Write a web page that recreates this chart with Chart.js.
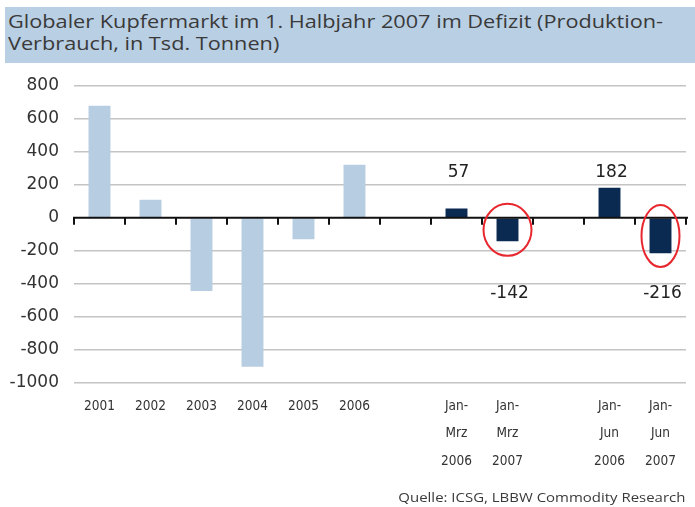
<!DOCTYPE html>
<html>
<head>
<meta charset="utf-8">
<script src="https://cdn.jsdelivr.net/npm/chart.js@4.4.1/dist/chart.umd.min.js"></script>
<style>
  html, body { margin: 0; padding: 0; background: #ffffff; }
  body { width: 695px; height: 507px; position: relative; overflow: hidden; }
  #band { position: absolute; left: 5px; top: 7px; width: 690px; height: 56px; background: #b9cfe4; }
  .tline { position: absolute; left: 8px; font-family: "Open Sans", sans-serif; font-size: 18px; color: #3a3a3a; white-space: nowrap; transform-origin: 0 50%; line-height: 20px; }
  #t1 { top: 11px; }
  #t2 { top: 33px; }
  #src { position: absolute; right: 10px; top: 487px; font-family: "Open Sans", sans-serif; font-size: 13px; color: #3a3a3a; white-space: nowrap; transform-origin: 100% 50%; line-height: 20px; }
  #wrap { position: absolute; left: 0; top: 0; width: 695px; height: 507px; }
</style>
</head>
<body>
<div id="band"></div>
<div class="tline" id="t1">Globaler Kupfermarkt im 1. Halbjahr 2007 im Defizit (Produktion-</div>
<div class="tline" id="t2">Verbrauch, in Tsd. Tonnen)</div>
<div id="wrap"><canvas id="c" width="695" height="507"></canvas></div>
<div id="src">Quelle: ICSG, LBBW Commodity Research</div>
<script>
// ---- data ----
const categories = [
  '2001', '2002', '2003', '2004', '2005', '2006', '',
  ['Jan-', 'Mrz', '2006'], ['Jan-', 'Mrz', '2007'], '',
  ['Jan-', 'Jun', '2006'], ['Jan-', 'Jun', '2007']
];
const annualValues = [680, 110, -445, -905, -130, 322, null, null, null, null, null, null];
const periodValues = [null, null, null, null, null, null, null, 57, -142, null, 182, -216];
const periodLabels = [null, null, null, null, null, null, null, '57', '-142', null, '182', '-216'];
const highlighted = [8, 11];
const yTicks = [800, 600, 400, 200, 0, -200, -400, -600, -800, -1000];

function fit(id, target) {
  const el = document.getElementById(id);
  const w = el.getBoundingClientRect().width;
  el.style.transform = 'scaleX(' + (target / w) + ')';
}
fit('t1', 655);
fit('src', 287);
document.getElementById('t2').style.transform = document.getElementById('t1').style.transform;

const decor = {
  id: 'decor',
  afterDatasetsDraw(chart) {
    const ctx = chart.ctx;
    const xs = chart.scales.x, ys = chart.scales.y;
    const y0 = ys.getPixelForValue(0);
    ctx.save();
    ctx.strokeStyle = '#111';
    ctx.lineWidth = 2;
    ctx.beginPath();
    ctx.moveTo(chart.chartArea.left - 1, y0);
    ctx.lineTo(chart.chartArea.right + 2, y0);
    ctx.stroke();
    for (let i = 0; i <= categories.length; i++) {
      const x = Math.round(xs.getPixelForValue(i - 0.5));
      ctx.beginPath();
      ctx.moveTo(x, y0);
      ctx.lineTo(x, y0 + 7);
      ctx.stroke();
    }
    ctx.fillStyle = '#222';
    ctx.font = '17px "DejaVu Sans", sans-serif';
    ctx.textAlign = 'center';
    ctx.textBaseline = 'middle';
    const meta = chart.getDatasetMeta(1);
    periodLabels.forEach((lab, i) => {
      if (lab == null) return;
      const bar = meta.data[i];
      const v = periodValues[i];
      const y = v >= 0 ? ys.getPixelForValue(275) : ys.getPixelForValue(-458);
      ctx.fillText(lab, bar.x + 2, y);
    });
    const radii = { 8: [24, 26], 11: [19, 31] };
    ctx.strokeStyle = '#e8262d';
    ctx.lineWidth = 2;
    highlighted.forEach(i => {
      const bar = meta.data[i];
      const cy = (bar.y + bar.base) / 2;
      const r = radii[i];
      ctx.beginPath();
      ctx.ellipse(bar.x, cy, r[0], r[1], 0, 0, Math.PI * 2);
      ctx.stroke();
    });
    ctx.restore();
  }
};

new Chart(document.getElementById('c'), {
  type: 'bar',
  data: {
    labels: categories,
    datasets: [
      { data: annualValues, backgroundColor: '#b7cde2', barPercentage: 0.43, categoryPercentage: 1, grouped: false },
      { data: periodValues, backgroundColor: '#0b2a52', barPercentage: 0.43, categoryPercentage: 1, grouped: false }
    ]
  },
  options: {
    responsive: false,
    animation: false,
    devicePixelRatio: 1,
    layout: { padding: { left: 10, right: 9, top: 86, bottom: 30 } },
    plugins: { legend: { display: false }, tooltip: { enabled: false }, title: { display: false } },
    scales: {
      x: {
        grid: { display: false },
        border: { display: false },
        ticks: {
          autoSkip: false, maxRotation: 0, minRotation: 0, padding: 2,
          color: '#333',
          font: { family: '"Liberation Sans Narrow", "DejaVu Sans Condensed", sans-serif', size: 13.5, lineHeight: '27.5px' }
        }
      },
      y: {
        min: -1000, max: 800,
        afterBuildTicks(scale) { scale.ticks = yTicks.map(v => ({ value: v })); },
        afterFit(scale) { scale.width = 64; },
        grid: {
          drawTicks: false,
          color: c => (c.tick && c.tick.value === 0) ? 'rgba(0,0,0,0)' : '#c4c4c4',
          lineWidth: 1.5
        },
        border: { display: false },
        ticks: {
          padding: 15, color: '#333',
          font: { family: '"DejaVu Sans", sans-serif', size: 17 },
          callback: v => String(v)
        }
      }
    }
  },
  plugins: [decor]
});
</script>
</body>
</html>
